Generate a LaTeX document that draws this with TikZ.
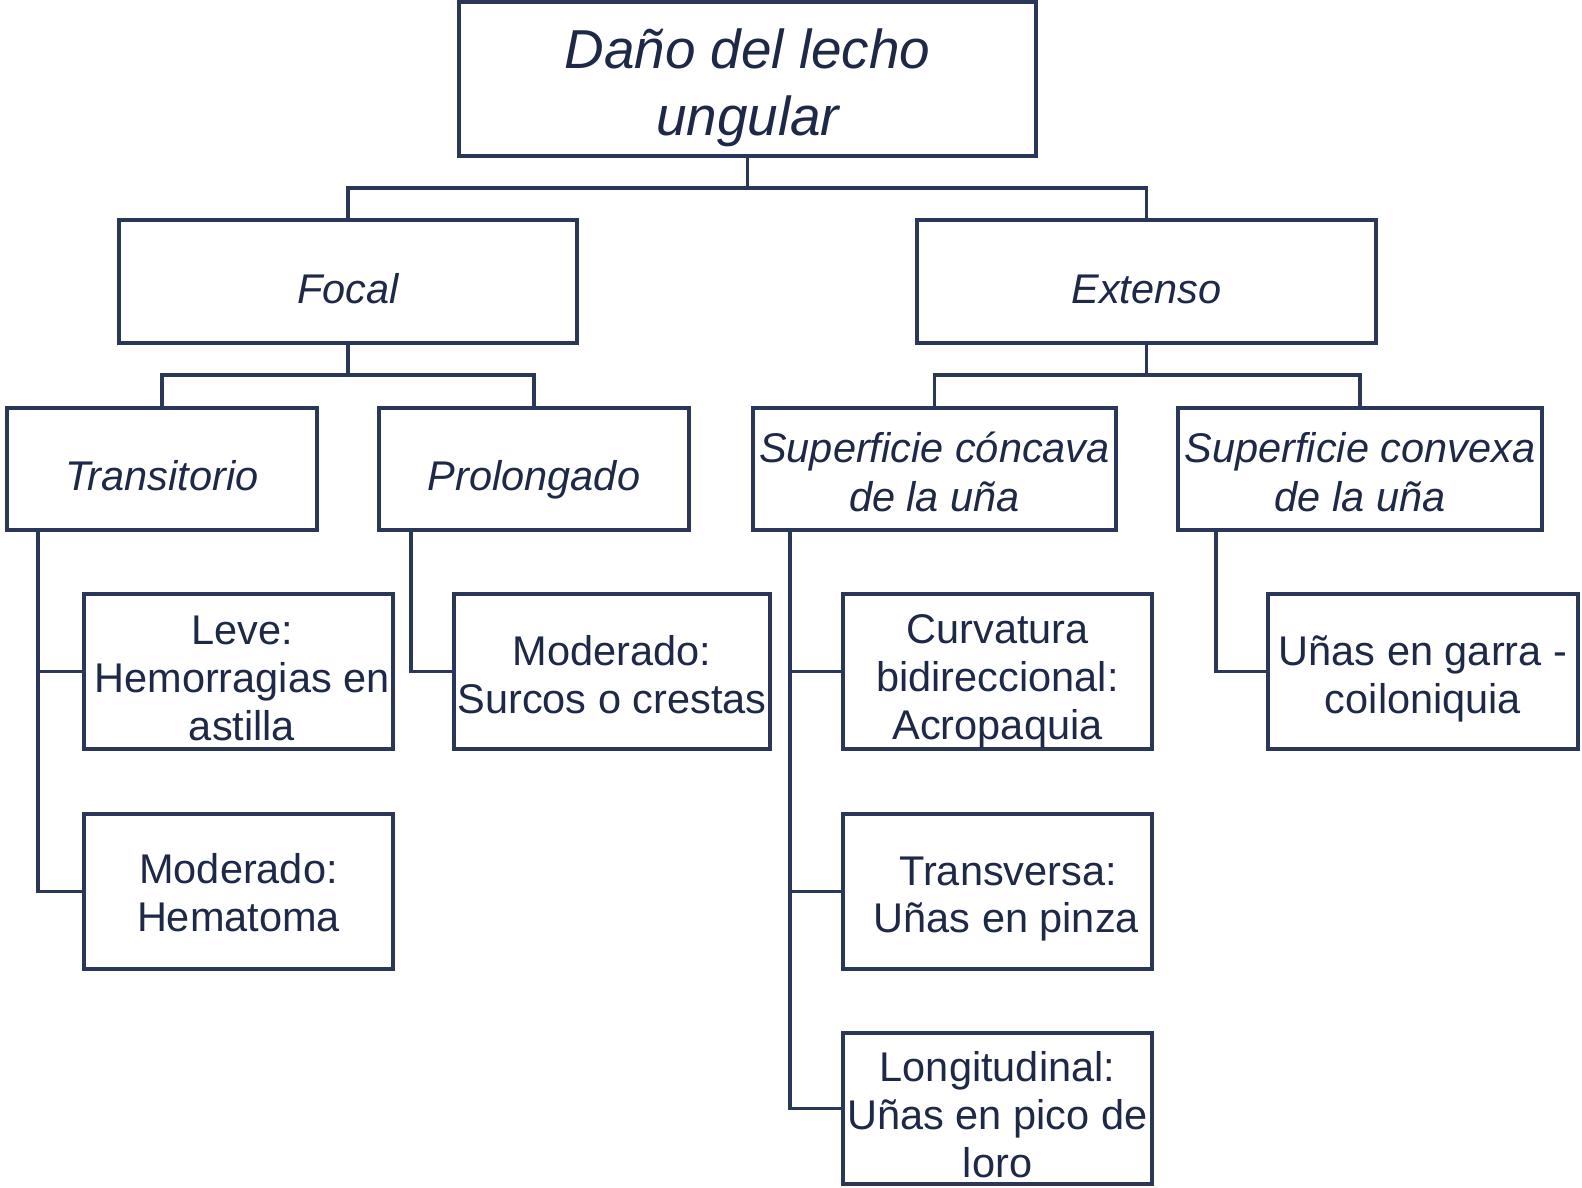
\documentclass[tikz,border=0pt]{standalone}
\usepackage{fontspec}
\setmainfont{Liberation Sans}
\usepackage{tikz}
\usetikzlibrary{positioning,calc}
\definecolor{boxline}{HTML}{2B3759}
\definecolor{boxtext}{HTML}{1E2847}

\begin{document}
\begin{tikzpicture}[x=0.01cm,y=-0.01cm,
 box/.style={draw=boxline,line width=1.1pt,fill=white,align=center,inner sep=1pt,
 text=boxtext,text depth=0pt,font=\fontsize{11.8}{13.6}\selectfont},
 head/.style={box,text height=12.3pt,font=\fontsize{11.8}{13.9}\selectfont\itshape},
 link/.style={draw=boxline,line width=1.1pt}]
\useasboundingbox (0,0) rectangle (1582,1187);
% top levels
\node[box,minimum width=5.77cm,minimum height=1.54cm,text height=32.4pt,font=\fontsize{15.6}{19.3}\selectfont\itshape]
 (dano) at (747.5,79) {Daño del lecho\\ungular};
\node[head,minimum width=4.58cm,minimum height=1.23cm] (focal) at (348,281.5) {Focal};
\node[head,minimum width=4.59cm,minimum height=1.23cm] (ext) at (1146.5,281.5) {Extenso};
\node[head,minimum width=3.10cm,minimum height=1.22cm] (trans) at (162,469) {Transitorio};
\node[head,minimum width=3.10cm,minimum height=1.22cm] (prol) at (534,469) {Prolongado};
\node[head,minimum width=3.63cm,minimum height=1.22cm,text height=23.9pt] (conc) at (934.5,469) {Superficie cóncava\\de la uña};
\node[head,minimum width=3.64cm,minimum height=1.22cm,text height=23.9pt] (conv) at (1360,469) {Superficie convexa\\de la uña};
% leaves
\node[box,minimum width=3.09cm,minimum height=1.55cm,text height=39.1pt] (leve) at (238.5,671.5) {\hspace{2pt}Leve:\\\hspace{2pt}Hemorragias en\\\hspace{2pt}astilla};
\node[box,minimum width=3.09cm,minimum height=1.55cm,text height=22.6pt] (hemat) at (238.5,891.5) {Moderado:\\Hematoma};
\node[box,minimum width=3.10cm,minimum height=1.55cm,text height=23.8pt] (surc) at (612,671.5) {Moderado:\\Surcos o crestas};
\node[box,minimum width=3.09cm,minimum height=1.55cm,text height=38.4pt] (curv) at (997.5,671.5) {Curvatura\\bidireccional:\\Acropaquia};
\node[box,minimum width=3.09cm,minimum height=1.55cm,text height=23.5pt] (tvers) at (997.5,891.5) {\hspace{6pt}Transversa:\\\hspace{5pt}Uñas en pinza};
\node[box,minimum width=3.09cm,minimum height=1.51cm,text height=39.1pt] (longi) at (997.5,1108.5) {Longitudinal:\\Uñas en pico de\\loro};
\node[box,minimum width=3.10cm,minimum height=1.55cm,text height=23.6pt] (garra) at (1423,671.5) {Uñas en garra -\\coiloniquia};
% trunks
\coordinate (j0) at (747.5,188);
\coordinate (j1) at (348,375);
\coordinate (j2) at (1146.5,375);
\coordinate (t1) at (38,0);
\coordinate (t2) at (411,0);
\coordinate (t3) at (790,0);
\coordinate (t4) at (1216,0);
\draw[link] (dano.south) -- (j0) -| (focal.north);
\draw[link] (j0) -| (ext.north);
\draw[link] (focal.south) -- (j1) -| (trans.north);
\draw[link] (j1) -| (prol.north);
\draw[link] (ext.south) -- (j2) -| (conc.north);
\draw[link] (j2) -| (conv.north);
\draw[link] (trans.south -| t1) |- (hemat.west);
\draw[link] (leve.west -| t1) -- (leve.west);
\draw[link] (prol.south -| t2) |- (surc.west);
\draw[link] (conc.south -| t3) |- (longi.west);
\draw[link] (curv.west -| t3) -- (curv.west);
\draw[link] (tvers.west -| t3) -- (tvers.west);
\draw[link] (conv.south -| t4) |- (garra.west);
\end{tikzpicture}
\end{document}
